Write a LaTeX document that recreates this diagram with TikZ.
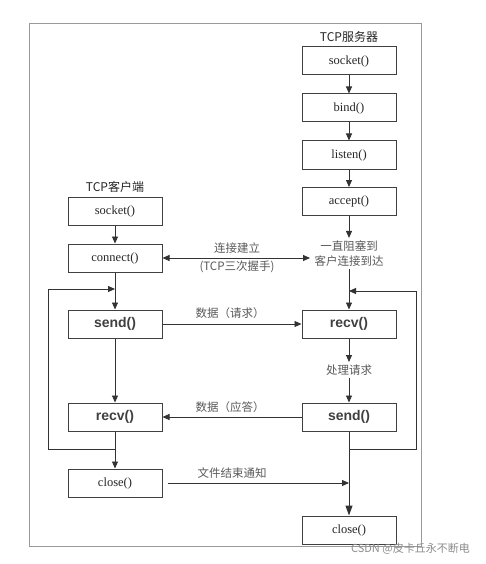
\documentclass[tikz,border=0pt]{standalone}
\usepackage{fontspec}
\setmainfont{Liberation Serif}
\newfontfamily\cjk{Noto Sans CJK SC}
\newfontfamily\bsans{Liberation Sans}
\usetikzlibrary{arrows.meta}
\begin{document}
\begin{tikzpicture}[x=1pt,y=-1pt,
  box/.style={draw=black!75, line width=1pt, minimum width=94pt, minimum height=28pt, inner sep=0pt, text=black!85, font=\fontsize{12.5}{13}\selectfont},
  fbox/.style={box, font=\bsans\bfseries\fontsize{14}{15}\selectfont, text=black!75},
  lab/.style={font=\cjk\fontsize{11.5}{15}\selectfont, text=black!65, inner sep=2.5pt},
  ttl/.style={font=\cjk\fontsize{12}{13}\selectfont, text=black!85},
  arr/.style={-{Triangle[length=7pt,width=6pt]}, draw=black!80, line width=0.9pt},
  barr/.style={-{Triangle[length=10pt,width=7pt]}, draw=black!80, line width=1pt},
  darr/.style={{Triangle[length=7pt,width=6pt]}-{Triangle[length=7pt,width=6pt]}, draw=black!80, line width=0.9pt}]
\useasboundingbox (0,0) rectangle (485,564);
\fill[white] (0,0) rectangle (485,564);
\draw[black!40, line width=0.7pt] (29,23) rectangle (421,546);

% server
\node[ttl] (stitle) at (349,37) {TCP服务器};
\node[box] (ss) at (349,61) {socket()};
\node[box] (sb) at (349,108) {bind()};
\node[box] (sl) at (349,155) {listen()};
\node[box] (sa) at (349,201.5) {accept()};
\node[lab, align=center] (block) at (349,253.5) {一直阻塞到\\客户连接到达};
\node[fbox] (sr) at (349,324) {recv()};
\node[lab] (proc) at (349,370) {处理请求};
\node[fbox] (ssd) at (349,417) {send()};
\node[box] (sc) at (349,530) {close()};

% client
\node[ttl] (ctitle) at (115,187) {TCP客户端};
\node[box] (cs) at (115,211) {socket()};
\node[box] (cc) at (115,258) {connect()};
\node[fbox] (csd) at (115,324) {send()};
\node[fbox] (cr) at (115,417) {recv()};
\node[box] (ccl) at (115,483) {close()};

% server arrows
\draw[arr] (ss) -- (sb);
\draw[arr] (sb) -- (sl);
\draw[arr] (sl) -- (sa);
\draw[arr] (sa.south) -- (block.north);
\draw[arr] (block.south) -- (sr.north);
\draw[arr] (sr.south) -- (proc.north);
\draw[arr] (proc.south) -- (ssd.north);
\draw[barr] (ssd.south) -- (sc.north);
\coordinate (sj) at (349,449);
\coordinate (sk) at (349,291);
\draw[arr] (sj) -- (416,449) -- (416,291) -- (sk);

% client arrows
\draw[arr] (cs) -- (cc);
\draw[arr] (cc) -- (csd);
\draw[arr] (csd) -- (cr);
\draw[arr] (cr) -- (ccl);
\coordinate (cj) at (115,449);
\coordinate (ck) at (115,289);
\draw[arr] (cj) -- (48,449) -- (48,289) -- (ck);

% horizontal
\coordinate (hs) at (310,258);
\draw[darr] (cc.east) -- (hs);
\node[lab] (l1) at (237,248) {连接建立};
\node[lab] (l2) at (237,267) {(TCP三次握手)};
\draw[arr] (csd.east) -- (sr.west);
\node[lab] (l3) at (230,313) {数据（请求）};
\draw[arr] (ssd.west) -- (cr.east);
\node[lab] (l4) at (230,407) {数据（应答）};
\coordinate (fe) at (349,483);
\draw[arr] ([xshift=5pt]ccl.east) -- (fe);
\node[lab] (l5) at (232,473) {文件结束通知};

\node[font=\cjk\fontsize{11}{12}\selectfont, text=black!45, anchor=east, inner sep=0pt] (wm) at (470,549) {CSDN @皮卡丘永不断电};
\end{tikzpicture}
\end{document}
